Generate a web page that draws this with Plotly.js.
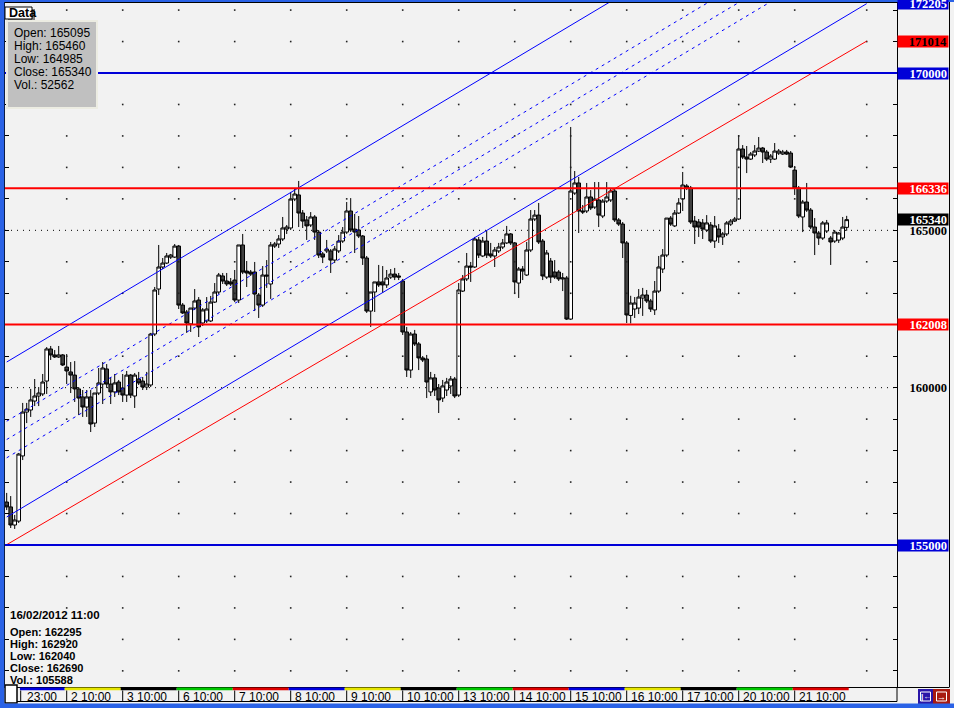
<!DOCTYPE html>
<html><head><meta charset="utf-8">
<script src="https://cdn.plot.ly/plotly-3.0.1.min.js"></script>
<style>html,body{margin:0;padding:0;background:#f2f2f2;overflow:hidden}</style>
</head><body><div id="chart" style="width:954px;height:708px"></div>
<script>
// ---- hourly bars, 1 Feb - 21 Feb 2012 (14 bars per session) ----
const openP = [156365,156210,155635,155760,157830,159225,159290,159575,159735,159800,160210,161230,161040,160975,161040,160655,160500,160400,159960,159705,159385,159705,158875,159830,160115,160595,160115,159865,160180,159990,159765,160400,159735,160275,160210,160020,160085,161705,163135,163835,163960,164150,164150,164500,162625,162405,162025,162530,162785,162055,162120,162120,162720,163040,163550,163390,163360,163420,162785,164535,163705,163675,163675,162945,162625,163580,163295,164500,164565,164725,165040,165075,165995,166125,165550,165330,165170,165425,164945,164250,164345,164345,164055,164345,164660,164945,165615,165040,165010,164820,164120,162435,163040,163360,163360,163265,163515,163610,163550,163390,161770,160560,161705,161390,160945,160910,159865,160310,159990,159670,159925,160055,160275,159765,163070,163455,163865,163835,164695,164185,164660,164250,164185,164345,164470,164600,164885,164600,163325,163770,163580,164375,165360,165485,164660,163515,164025,163675,163675,163455,163485,162180,166185,166505,165615,165615,166060,165740,165965,165455,165930,165965,166250,165330,165200,164600,162295,162500,162530,162850,162945,162755,162470,163070,163770,164215,165390,165140,165550,165995,166410,166345,165295,165265,165235,165010,165170,164660,165040,164790,164885,165200,165295,165360,167585,167330,167265,167395,167520,167615,167490,167265,167265,167455,167425,167490,167455,166915,166345,165425,165900,165645,165105,164915,164755,164980,164755,164660,164690,164755,165095];
const highP = [156655,156555,155955,157925,159515,159515,159960,160275,160020,160435,161290,161325,161195,161325,161070,161070,160815,160845,160020,159925,159925,159925,159830,160625,160815,160750,160340,160435,160245,160435,160530,160435,160465,160500,160340,160500,161740,163200,164535,164120,164280,164250,164565,164535,162690,162470,162530,163135,162880,162530,162880,162915,163325,163645,163645,163645,163485,163740,164535,164885,164025,163740,163995,163010,163865,164055,164630,164630,164850,165425,165170,166220,166345,166570,165645,165455,165580,165485,165010,164310,164695,164405,164500,164850,165105,165900,166025,165520,165455,164850,164185,163040,163360,163900,163865,163740,163770,163805,163645,163455,161930,161770,161835,161450,161005,161040,160500,160435,160115,160245,160310,160370,160340,163325,163580,164280,163995,164790,164790,164790,164980,164600,164470,164600,164725,165140,164915,164630,163835,163865,164630,165645,165645,165870,164725,164375,164120,164055,163740,163645,163550,168285,166885,166695,165805,166505,166280,166535,166535,165995,166535,166315,166315,165390,165265,164660,162920,162880,163135,163170,163105,162820,163390,164185,164405,165390,165455,165645,166025,166855,166470,166410,165455,165360,165360,165485,165265,165455,165200,164945,165295,165360,165425,168030,167710,167680,167490,167710,167965,167650,167555,167425,167775,167585,167555,167555,167520,167045,166410,165965,166505,165710,165390,164980,165295,165330,164820,165010,164945,165425,165460];
const lowP = [156110,155540,155510,155700,157700,158875,159070,159415,159415,159735,159800,160880,160945,160945,160690,160115,159830,159545,159130,159070,159070,158590,158750,159765,159480,159990,159480,159705,159765,159545,159545,159670,159355,160085,159925,159925,160020,161640,162945,163770,163930,164090,164120,162500,162340,161740,161770,162470,161610,161960,162055,162085,162690,162975,163295,163230,163230,162720,162690,163610,163200,163550,162435,162215,162565,163170,162820,164440,164440,164660,164885,165010,165930,165105,165075,164695,165105,164695,164120,163960,164280,163645,163960,164280,164600,164885,164945,164280,164755,163900,162375,161930,162405,163200,163010,163170,163455,163420,163420,161675,160340,160310,161325,160560,160815,159670,159735,159735,159195,159545,159735,159800,159670,159705,163040,163390,163360,163805,164120,164150,164120,164120,163835,164280,164405,164565,164535,163010,162850,163420,163550,164310,165295,164565,163420,163455,163325,163455,163390,163070,162150,162150,166125,164915,165520,165550,165645,165680,165105,165390,165870,165900,165265,165140,164120,162055,162040,162215,162340,162280,162690,162405,162310,163010,163645,164150,165140,165105,165520,165615,166280,165200,164565,164790,164725,164945,164600,164440,164600,164535,164820,165140,165265,165330,167265,166820,167235,167330,167490,167140,167205,167140,167235,167395,167395,167395,166980,166125,165390,164945,165585,165040,164215,164535,164695,164915,163900,164600,164600,164690,164985];
const closeP = [156210,155635,155795,157890,159225,159320,159610,159735,159830,160180,161230,161040,160975,161040,160720,160530,160400,159960,159670,159385,159705,158845,159830,160150,160625,160115,159865,160150,159865,159765,160400,159765,160400,160150,160020,160115,161705,163105,163835,163960,164185,164215,164500,162625,162375,162055,162530,162755,161930,162470,162500,162720,163040,163580,163390,163295,163295,162785,164535,163675,163645,163610,162975,162625,163580,163550,164535,164565,164725,165075,165105,165995,166155,165550,165295,165140,165425,164945,164215,164150,164405,164055,164405,164660,164945,165615,165010,164945,164820,164120,162435,163040,163360,163265,163265,163485,163610,163515,163515,161770,160560,161705,161390,160945,160880,160180,160310,159925,159610,160055,160180,160275,159735,163105,163455,163865,163835,164725,164215,164660,164215,164185,164375,164470,164600,164885,164600,163360,163770,163705,164375,165360,165485,164630,163550,164280,163515,163515,163455,163485,162180,166250,166505,165615,165585,166060,165710,165995,165485,165930,166060,166250,165330,165200,164600,162310,162690,162690,162880,162945,162755,162500,163070,163835,164215,165390,165200,165550,165870,166440,166345,165265,165105,165105,165040,165235,164660,165140,164790,164885,165235,165295,165360,167585,167330,167265,167425,167520,167615,167490,167265,167360,167520,167520,167490,167425,167010,166345,165455,165900,165645,165105,164915,164755,165235,165235,164630,164945,164915,165105,165340];
const lastVolume = 52562;
const cursorBar = 157;            // 16/02/2012 11:00
const cursorLabel = '16/02/2012 11:00';
const cursorVolume = 105588;

// ---- time axis ----
const dayTickIndex = [4.5,16,30,44,58,72,86,100,114,128,142,156,170,184,198];
const dayTickText = ['23:00','2 10:00','3 10:00','6 10:00','7 10:00','8 10:00','9 10:00','10 10:00','13 10:00','14 10:00','15 10:00','16 10:00','17 10:00','20 10:00','21 10:00'];
const dayColors = ['#0000e0','#e6e600','#000000','#00c800','#e00000'];
const gridColumnIndex = [16,30,44,58,72,86,100,114,128,142,156,170,184,198,216];
const gridRowLevels = [151000,152000,153000,154000,156000,157000,158000,159000,161000,163000,164000,166000,167000,168000,169000,171000,172000];
const dottedLevels = [160000,165000];

// ---- drawn studies ----
const levelBlue = [170000,155000];
const levelRed = [166336,162008];
const channelX = [1,216];
const channelUpper = [160815,177130];
const channelFib382 = [158934,175249];
const channelFib500 = [158352,174667];
const channelFib618 = [157771,174086];
const channelLower = [155890,172205];
const channelRed = [155010,171014];

// ---- right price tags ----
const tagValues = [172205,171014,170000,166336,165000,165340,162008,160000,155000];
const tagFill = ['#0000d8','#ff0000','#0000d8','#ff0000','rgba(0,0,0,0)','#000000','#ff0000','rgba(0,0,0,0)','#0000d8'];
const tagInk = ['#ffffff','#000000','#ffffff','#ffffff','#000000','#ffffff','#ffffff','#000000','#ffffff'];

const barIndex = openP.map((_, k) => k + 1);
const N = openP.length;

// pixel helpers for page furniture (plot area: x 5..897, y 3..687)
const PX = p => (p - 5) / 892;
const PY = p => (687 - p) / 684;

const traces = [];
const gx = [], gy = [];
gridColumnIndex.forEach(c => gridRowLevels.forEach(l => { gx.push(c); gy.push(l); }));
traces.push({type:'scatter', mode:'markers', x:gx, y:gy, marker:{symbol:'square', size:1.6, color:'#222'}, hoverinfo:'skip', showlegend:false});
traces.push({type:'candlestick', x:barIndex, open:openP, high:highP, low:lowP, close:closeP,
  increasing:{line:{color:'#000000', width:1}, fillcolor:'#ffffff'},
  decreasing:{line:{color:'#000000', width:1}, fillcolor:'#404040'},
  whiskerwidth:0, hoverinfo:'skip', showlegend:false});
const chan = (y, color, dash) => traces.push({type:'scatter', mode:'lines', x:channelX, y:y,
  line:{color:color, width:1, dash:dash}, hoverinfo:'skip', showlegend:false});
chan(channelUpper, '#0000ff', 'solid');
chan(channelFib382, '#0000ff', '3px,4px');
chan(channelFib500, '#0000ff', '3px,4px');
chan(channelFib618, '#0000ff', '3px,4px');
chan(channelLower, '#0000ff', 'solid');
chan(channelRed, '#ff0000', 'solid');

const shapes = [];
dottedLevels.forEach(v => shapes.push({type:'line', xref:'paper', x0:0, x1:1, yref:'y', y0:v, y1:v, layer:'below', line:{color:'#000', width:1, dash:'1px,5px'}}));
levelBlue.forEach(v => shapes.push({type:'line', xref:'paper', x0:0, x1:1, yref:'y', y0:v, y1:v, layer:'above', line:{color:'#0000d8', width:2}}));
levelRed.forEach(v => shapes.push({type:'line', xref:'paper', x0:0, x1:1, yref:'y', y0:v, y1:v, layer:'above', line:{color:'#ff0000', width:2}}));

shapes.push({type:'rect', xref:'paper', yref:'paper', x0:PX(8), x1:PX(35), y0:PY(21), y1:PY(9), fillcolor:'#808080', line:{width:0}, layer:'above'});
shapes.push({type:'rect', xref:'paper', yref:'paper', x0:PX(5), x1:PX(32), y0:PY(19), y1:PY(7), fillcolor:'#ffffff', line:{color:'#000', width:1}, layer:'above'});
shapes.push({type:'rect', xref:'paper', yref:'paper', x0:PX(7), x1:PX(97), y0:PY(108), y1:PY(21), fillcolor:'#c0c0c0', line:{color:'#ecece2', width:2}, layer:'above'});

for (let k = 0; k < dayTickIndex.length; k++) {
  const a = k === 0 ? dayTickIndex[0] - 0.2 : dayTickIndex[k] - 0.5;
  const b = k + 1 < dayTickIndex.length ? dayTickIndex[k+1] - 0.5 : N + 0.5;
  shapes.push({type:'rect', xref:'x', yref:'paper', x0:a, x1:b, y0:PY(690.3), y1:PY(687.6), fillcolor:dayColors[k % dayColors.length], line:{width:0}});
  shapes.push({type:'line', xref:'x', yref:'paper', x0:dayTickIndex[k], x1:dayTickIndex[k], y0:PY(701), y1:PY(690.5), line:{color:'#000', width:1}});
}
shapes.push({type:'line', xref:'paper', yref:'paper', x0:PX(5), x1:PX(897), y0:PY(701.5), y1:PY(701.5), line:{color:'#000', width:1}});
shapes.push({type:'line', xref:'paper', yref:'paper', x0:PX(897), x1:PX(897), y0:PY(701.5), y1:PY(687), line:{color:'#000', width:1}});
shapes.push({type:'rect', xref:'paper', yref:'paper', x0:PX(5), x1:PX(17), y0:PY(703), y1:PY(685), fillcolor:'#ffffff', line:{color:'#000', width:1.5}});
shapes.push({type:'line', xref:'paper', yref:'paper', x0:PX(949.5), x1:PX(949.5), y0:PY(687), y1:PY(0), line:{color:'#000', width:1}});
shapes.push({type:'line', xref:'paper', yref:'paper', x0:PX(897), x1:PX(949.5), y0:PY(687.5), y1:PY(687.5), line:{color:'#000', width:1}});
shapes.push({type:'rect', xref:'paper', yref:'paper', x0:PX(918), x1:PX(933), y0:PY(704), y1:PY(689), fillcolor:'#2a16a8', line:{width:0}});
shapes.push({type:'rect', xref:'paper', yref:'paper', x0:PX(933), x1:PX(950), y0:PY(704), y1:PY(689), fillcolor:'#a81a10', line:{width:0}});
shapes.push({type:'rect', xref:'paper', yref:'paper', x0:PX(920.5), x1:PX(930.5), y0:PY(701), y1:PY(692), line:{color:'#ffffff', width:1}});
shapes.push({type:'rect', xref:'paper', yref:'paper', x0:PX(936.5), x1:PX(946.5), y0:PY(701), y1:PY(692), line:{color:'#ffffff', width:1}});
shapes.push({type:'rect', xref:'paper', yref:'paper', x0:PX(0), x1:PX(4.3), y0:PY(708), y1:PY(0), fillcolor:'#2a62e6', line:{width:0}});
shapes.push({type:'rect', xref:'paper', yref:'paper', x0:PX(0), x1:PX(954), y0:PY(708), y1:PY(703.5), fillcolor:'#2a62e6', line:{width:0}});
shapes.push({type:'rect', xref:'paper', yref:'paper', x0:PX(0), x1:PX(954), y0:PY(2), y1:PY(0), fillcolor:'#2a62e6', line:{width:0}});

const annotations = [];
const sans = 'Liberation Sans, Arial, sans-serif';
annotations.push({xref:'paper', yref:'paper', x:PX(7), y:PY(13), xanchor:'left', yanchor:'middle', text:'Data', showarrow:false, font:{family:sans, size:12.5, color:'#000', weight:'bold'}});
const last = N - 1;
const boxVals = [['Open', openP[last]], ['High', highP[last]], ['Low', lowP[last]], ['Close', closeP[last]], ['Vol.', lastVolume]];
boxVals.forEach((r, k) => annotations.push({xref:'paper', yref:'paper', x:PX(12), y:PY(33 + 13*k), xanchor:'left', yanchor:'middle', text:r[0] + ': ' + r[1], showarrow:false, font:{family:sans, size:12, color:'#000'}}));
const cb = cursorBar - 1;
annotations.push({xref:'paper', yref:'paper', x:PX(8), y:PY(615), xanchor:'left', yanchor:'middle', text:cursorLabel, showarrow:false, font:{family:sans, size:11.5, color:'#000', weight:'bold'}});
const curVals = [['Open', openP[cb]], ['High', highP[cb]], ['Low', lowP[cb]], ['Close', closeP[cb]], ['Vol.', cursorVolume]];
curVals.forEach((r, k) => annotations.push({xref:'paper', yref:'paper', x:PX(8), y:PY(632 + 12*k), xanchor:'left', yanchor:'middle', text:r[0] + ': ' + r[1], showarrow:false, font:{family:sans, size:11, color:'#000', weight:'bold'}}));
dayTickIndex.forEach((t, k) => annotations.push({xref:'x', yref:'paper', x:t, y:PY(696.5), xanchor:'left', yanchor:'middle', xshift: k === 0 ? 4 : 2, text:dayTickText[k], showarrow:false, font:{family:sans, size:12, color:'#000'}}));
tagValues.forEach((v, k) => annotations.push({xref:'paper', yref:'y', x:PX(897.5), y:v, xanchor:'left', yanchor:'middle', text:String(v), showarrow:false,
  width:48, height:9, align:'right', borderpad:1, bgcolor:tagFill[k], font:{family:'Liberation Serif, serif', size:12.5, color:tagInk[k], weight:'bold'}}));
annotations.push({xref:'paper', yref:'paper', x:PX(925.5), y:PY(696.5), xanchor:'center', yanchor:'middle', text:'|←', showarrow:false, font:{family:sans, size:8, color:'#fff', weight:'bold'}});
annotations.push({xref:'paper', yref:'paper', x:PX(941.5), y:PY(696.5), xanchor:'center', yanchor:'middle', text:'→', showarrow:false, font:{family:sans, size:9, color:'#fff', weight:'bold'}});

const layout = {
  width:954, height:708,
  margin:{l:5, r:57, t:3, b:21, pad:0},
  paper_bgcolor:'#f2f2f2', plot_bgcolor:'#f2f2f2',
  showlegend:false, boxgap:0.1, boxgroupgap:0,
  xaxis:{range:[0.575, 223.575], showgrid:false, zeroline:false, showticklabels:false, ticks:'',
    showline:true, mirror:true, linecolor:'#000', linewidth:1, rangeslider:{visible:false}, fixedrange:true},
  yaxis:{range:[150487, 172225], side:'right', showgrid:false, zeroline:false, showticklabels:false,
    ticks:'inside', ticklen:4, tickcolor:'#000', tick0:0, dtick:1000, showline:true, mirror:'ticks', linecolor:'#000', fixedrange:true},
  shapes:shapes, annotations:annotations
};
Plotly.newPlot('chart', traces, layout, {staticPlot:true, displayModeBar:false});
</script></body></html>
